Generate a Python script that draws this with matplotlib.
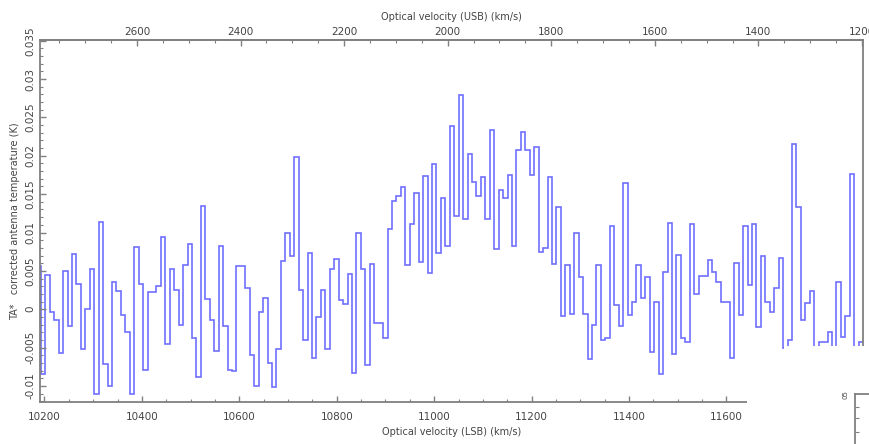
import matplotlib
matplotlib.use('Agg')
import matplotlib.pyplot as plt
import numpy as np
from matplotlib.patches import Rectangle
from matplotlib.ticker import MultipleLocator, FuncFormatter

# channel grid (LSB optical velocity, km/s)
EDGE0 = 10183.45
CHAN_WIDTH = 9.124

# TA* corrected antenna temperature per channel (K)
TA = [
    0.0056, -0.0085,
    0.0045, -0.0003, -0.0014, -0.0057, 0.0050, -0.0022, 0.0072, 0.0033, -0.0052, 0.0000,
    0.0053, -0.0110, 0.0114, -0.0071, -0.0100, 0.0035, 0.0024, -0.0008, -0.0030, -0.0110,
    0.0081, 0.0033, -0.0079, 0.0022, 0.0022, 0.0030, 0.0094, -0.0046, 0.0052, 0.0025,
    -0.0021, 0.0057, 0.0085, -0.0038, -0.0088, 0.0135, 0.0013, -0.0014, -0.0054, 0.0083,
    -0.0022, -0.0079, -0.0081, 0.0056, 0.0056, 0.0028, -0.0060, -0.0100, -0.0003, 0.0015,
    -0.0070, -0.0102, -0.0052, 0.0063, 0.0100, 0.0069, 0.0198, 0.0025, -0.0040, 0.0073,
    -0.0064,
    -0.0010, 0.0025, -0.0052, 0.0052, 0.0065, 0.0012, 0.0007, 0.0046, -0.0083, 0.0099,
    0.0052, -0.0073, 0.0059, -0.0018, -0.0018, -0.0037, 0.0105, 0.0141, 0.0147, 0.0159,
    0.0058, 0.0111, 0.0152, 0.0062, 0.0174, 0.0047, 0.0189, 0.0073, 0.0145, 0.0083,
    0.0239, 0.0122, 0.0279, 0.0117, 0.0202, 0.0166, 0.0148, 0.0172, 0.0118, 0.0234,
    0.0078, 0.0156, 0.0145, 0.0175, 0.0083, 0.0207, 0.0231, 0.0208, 0.0175, 0.0211,
    0.0074, 0.0080, 0.0172, 0.0059, 0.0133, -0.0009, 0.0058, -0.0006, 0.0099, 0.0042,
    -0.0006, -0.0065,
    -0.0021, 0.0057, -0.0040, -0.0038, 0.0109, 0.0005, -0.0022, 0.0165, -0.0008, 0.0010,
    0.0058, 0.0015, 0.0042, -0.0056, 0.0010, -0.0085, 0.0049, 0.0113, -0.0059, 0.0071,
    -0.0038, -0.0043, 0.0111, 0.0020, 0.0043, 0.0043, 0.0064, 0.0048, 0.0036, 0.0010,
    0.0010, -0.0064, 0.0060, -0.0008, 0.0109, 0.0031, 0.0111, -0.0023, 0.0069, 0.0010,
    -0.0004, 0.0028, 0.0067, -0.0050, -0.0040, 0.0215, 0.0133, -0.0014, 0.0008, 0.0024,
    -0.0060, -0.0043, -0.0043, -0.0030, -0.0060, 0.0036, -0.0036, -0.0009, 0.0176, -0.0060,
    -0.0043, -0.0043,
]

# LSB -> USB optical velocity (linear over this window)
USB_AT_10200 = 2778.6
USB_SLOPE = 0.9406

def lsb2usb(v):
    return USB_AT_10200 - USB_SLOPE * (np.asarray(v) - 10200)

def usb2lsb(u):
    return 10200 + (USB_AT_10200 - np.asarray(u)) / USB_SLOPE

W, H = 870, 444
SPINE = '#808080'
TXT = '#444444'
LINE = '#6f6fff'

fig = plt.figure(figsize=(W / 100, H / 100), dpi=100)
ax = fig.add_axes([40 / W, 1 - 402 / H, 823 / W, 362 / H])

edges = EDGE0 + CHAN_WIDTH * np.arange(len(TA) + 1)
ax.stairs(TA, edges, baseline=None, color=LINE, lw=1.2)

ax.set_xlim(10190.8, 11880.4)
ax.set_ylim(-0.0121, 0.0351)

ax.xaxis.set_major_locator(MultipleLocator(200))
ax.xaxis.set_minor_locator(MultipleLocator(50))
ax.yaxis.set_major_locator(MultipleLocator(0.005))
ax.yaxis.set_minor_locator(MultipleLocator(0.001))
ax.yaxis.set_major_formatter(FuncFormatter(lambda v, p: '0' if abs(v) < 1e-9 else f'{v:g}'))

for s in ax.spines.values():
    s.set_color(SPINE)
    s.set_linewidth(1.3)

ax.tick_params(axis='x', which='both', direction='in', top=False, color=SPINE,
               labelsize=7.5, labelcolor=TXT, pad=7)
ax.tick_params(axis='y', which='both', direction='in', right=False, color=SPINE,
               labelsize=7.5, labelcolor=TXT, pad=3, labelrotation=90)
ax.tick_params(which='major', length=4, width=1)
ax.tick_params(which='minor', length=2.5, width=0.8)
for lbl in ax.get_yticklabels():
    lbl.set_va('center')

ax.set_xlabel('Optical velocity (LSB) (km/s)', fontsize=7, color=TXT, labelpad=4)
ax.set_ylabel('TA*   corrected antenna temperature (K)', fontsize=7, color=TXT, labelpad=4)

sec = ax.secondary_xaxis('top', functions=(lsb2usb, usb2lsb))
sec.xaxis.set_major_locator(MultipleLocator(200))
sec.xaxis.set_minor_locator(MultipleLocator(50))
sec.spines['top'].set_color(SPINE)
sec.spines['top'].set_linewidth(1.3)
sec.tick_params(which='both', direction='in', color=SPINE, labelsize=7.5, labelcolor=TXT, pad=2)
sec.tick_params(which='major', length=4, width=1)
sec.tick_params(which='minor', length=2.5, width=0.8)
sec.set_xlabel('Optical velocity (USB) (km/s)', fontsize=7, color=TXT, labelpad=5)

# overlapping window in the lower right corner
fig.patches.append(Rectangle((784 / W, 0), 86 / W, 98 / H, transform=fig.transFigure,
                             facecolor='white', edgecolor='none', zorder=10))
fig.patches.append(Rectangle((747 / W, 0), 123 / W, 49 / H, transform=fig.transFigure,
                             facecolor='white', edgecolor='none', zorder=10))

corner = fig.add_axes([855 / W, 0, 0.1, 50 / H], zorder=11)
corner.set_xlim(0, 1)
corner.set_ylim(0, 1)
corner.set_xticks([])
corner.set_yticks([0.24, 0.52, 0.74])
corner.set_yticklabels([])
corner.tick_params(axis='y', direction='in', length=3, color=SPINE)
for k in ('right', 'bottom'):
    corner.spines[k].set_visible(False)
for k in ('left', 'top'):
    corner.spines[k].set_color(SPINE)
    corner.spines[k].set_linewidth(1.3)
fig.text(846 / W, 1 - 395 / H, '05', rotation=90, fontsize=5, color=TXT,
         ha='center', va='center', zorder=12)

fig.savefig('out.png', dpi=100)
